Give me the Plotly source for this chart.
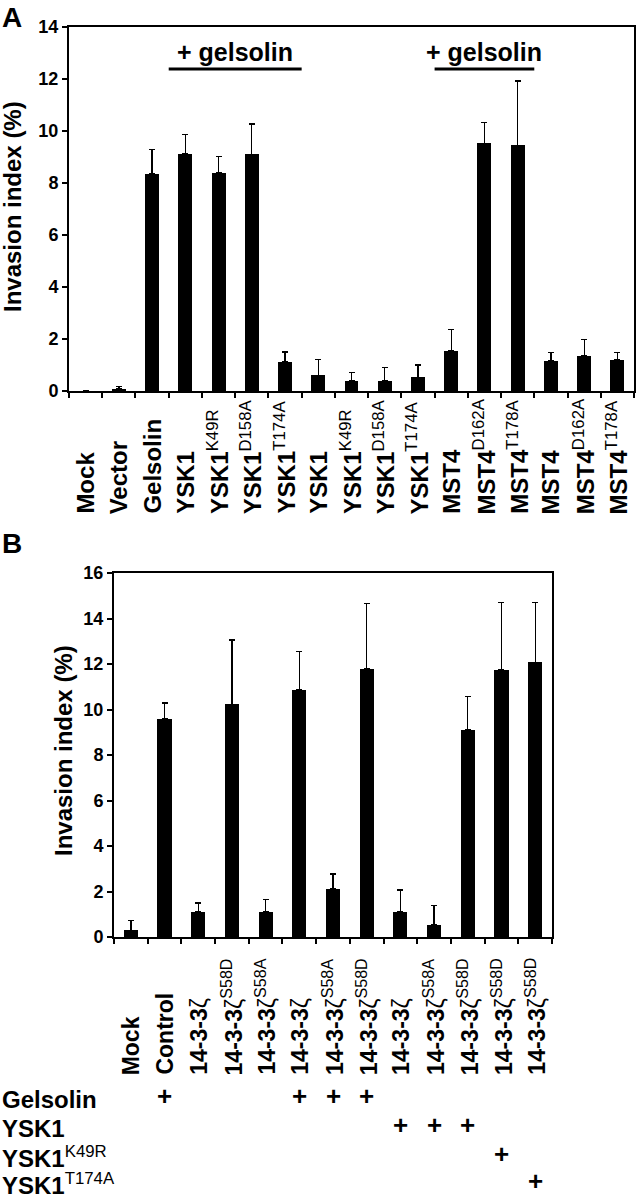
import plotly.graph_objects as go

# ---------------- Panel A data ----------------
a_base = ["Mock", "Vector", "Gelsolin", "YSK1", "YSK1", "YSK1", "YSK1",
          "YSK1", "YSK1", "YSK1", "YSK1", "MST4", "MST4", "MST4",
          "MST4", "MST4", "MST4"]
a_sup = ["", "", "", "", "K49R", "D158A", "T174A",
         "", "K49R", "D158A", "T174A", "", "D162A", "T178A",
         "", "D162A", "T178A"]
a_values = [0.0, 0.08, 8.35, 9.12, 8.4, 9.1, 1.12,
            0.6, 0.4, 0.4, 0.52, 1.55, 9.52, 9.45,
            1.15, 1.35, 1.2]
a_errors = [0.0, 0.1, 0.95, 0.75, 0.63, 1.17, 0.38,
            0.6, 0.32, 0.5, 0.48, 0.82, 0.8, 2.47,
            0.33, 0.62, 0.27]
a_groups = [(3, 6), (11, 13)]          # "+ gelsolin" brackets (first, last category)
a_group_label = "+ gelsolin"
a_yticks = [0, 2, 4, 6, 8, 10, 12, 14]

# ---------------- Panel B data ----------------
b_base = ["Mock", "Control", "14-3-3", "14-3-3", "14-3-3", "14-3-3",
          "14-3-3", "14-3-3", "14-3-3", "14-3-3", "14-3-3",
          "14-3-3", "14-3-3"]
b_greek = ["", "", "ζ", "ζ", "ζ", "ζ", "ζ", "ζ", "ζ", "ζ", "ζ", "ζ", "ζ"]
b_sup = ["", "", "", "S58D", "S58A", "", "S58A", "S58D", "", "S58A",
         "S58D", "S58D", "S58D"]
b_values = [0.3, 9.58, 1.1, 10.22, 1.1, 10.87, 2.12, 11.8, 1.1, 0.53,
            9.1, 11.75, 12.07]
b_errors = [0.42, 0.7, 0.4, 2.83, 0.55, 1.68, 0.65, 2.85, 0.97, 0.85,
            1.48, 2.95, 2.63]
b_yticks = [0, 2, 4, 6, 8, 10, 12, 14, 16]

# treatment table under panel B
t_rows = ["Gelsolin", "YSK1", "YSK1", "YSK1"]
t_rows_sup = ["", "", "K49R", "T174A"]
t_marks = [
    [0, 1, 0, 0, 0, 1, 1, 1, 0, 0, 0, 0, 0],
    [0, 0, 0, 0, 0, 0, 0, 0, 1, 1, 1, 0, 0],
    [0, 0, 0, 0, 0, 0, 0, 0, 0, 0, 0, 1, 0],
    [0, 0, 0, 0, 0, 0, 0, 0, 0, 0, 0, 0, 1],
]

FONT = "Liberation Sans, Arial, sans-serif"
W, H = 636, 1200


def px_x(p):
    return p / W


def px_y(p):
    return 1 - p / H


def label(base, sup, greek=""):
    t = "<b>%s</b>" % base
    if greek:
        t += greek
    if sup:
        t += "<sup>%s</sup>" % sup
    return t


fig = go.Figure()

fig.add_trace(go.Bar(
    x=list(range(len(a_values))), y=a_values, width=0.42,
    marker=dict(color="black", line=dict(width=0)),
    error_y=dict(type="data", symmetric=False, array=a_errors,
                 arrayminus=[0] * len(a_errors), color="black",
                 thickness=1.3, width=3),
    xaxis="x", yaxis="y", showlegend=False))

fig.add_trace(go.Bar(
    x=list(range(len(b_values))), y=b_values, width=0.42,
    marker=dict(color="black", line=dict(width=0)),
    error_y=dict(type="data", symmetric=False, array=b_errors,
                 arrayminus=[0] * len(b_errors), color="black",
                 thickness=1.3, width=3),
    xaxis="x2", yaxis="y2", showlegend=False))

axis_common = dict(showline=True, linecolor="black", linewidth=2,
                   mirror=True, ticks="outside", tickwidth=1.5,
                   ticklen=5, tickcolor="black", showgrid=False,
                   zeroline=False, automargin=False)

na, nb = len(a_values), len(b_values)
fig.update_layout(
    width=W, height=H,
    margin=dict(l=0, r=0, t=0, b=0, pad=0),
    paper_bgcolor="white", plot_bgcolor="white",
    font=dict(family=FONT, color="black"),
    bargap=0,
    xaxis=dict(domain=[px_x(69), px_x(634)], range=[-0.5, na - 0.5],
               tickvals=[i - 0.5 for i in range(na + 1)],
               showticklabels=False, anchor="y", **axis_common),
    yaxis=dict(domain=[px_y(391), px_y(27)], range=[0, 14],
               tickvals=a_yticks,
               ticktext=["<b>%d</b>" % v for v in a_yticks],
               tickfont=dict(size=18, family=FONT), anchor="x",
               **axis_common),
    xaxis2=dict(domain=[px_x(114), px_x(552)], range=[-0.5, nb - 0.5],
                tickvals=[i - 0.5 for i in range(nb + 1)],
                showticklabels=False, anchor="y2", **axis_common),
    yaxis2=dict(domain=[px_y(937), px_y(573)], range=[0, 16],
                tickvals=b_yticks,
                ticktext=["<b>%d</b>" % v for v in b_yticks],
                tickfont=dict(size=18, family=FONT), anchor="x2",
                **axis_common),
)

ann = []
# category labels, bottom-aligned, rotated
for i, (b, s) in enumerate(zip(a_base, a_sup)):
    ann.append(dict(x=i, xref="x", y=px_y(516), yref="paper",
                    text=label(b, s), textangle=-90, showarrow=False,
                    xanchor="center", yanchor="bottom",
                    font=dict(size=24, family=FONT)))
for i, (b, g, s) in enumerate(zip(b_base, b_greek, b_sup)):
    ann.append(dict(x=i, xref="x2", y=px_y(1077), yref="paper",
                    text=label(b, s, g), textangle=-90, showarrow=False,
                    xanchor="center", yanchor="bottom",
                    font=dict(size=23, family=FONT)))

# y titles
ann.append(dict(x=px_x(13), y=px_y(207), xref="paper", yref="paper",
                text="<b>Invasion index (%)</b>", textangle=-90,
                xanchor="center", yanchor="middle",
                showarrow=False, font=dict(size=24, family=FONT)))
ann.append(dict(x=px_x(63), y=px_y(751), xref="paper", yref="paper",
                text="<b>Invasion index (%)</b>", textangle=-90,
                xanchor="center", yanchor="middle",
                showarrow=False, font=dict(size=24, family=FONT)))

# panel letters
ann.append(dict(x=0, y=px_y(0), xref="paper", yref="paper", text="<b>A</b>",
                showarrow=False, xanchor="left", yanchor="top",
                font=dict(size=28, family=FONT)))
ann.append(dict(x=0, y=px_y(526), xref="paper", yref="paper", text="<b>B</b>",
                showarrow=False, xanchor="left", yanchor="top",
                font=dict(size=28, family=FONT)))

# "+ gelsolin" brackets
shapes = []
for (g0, g1) in a_groups:
    shapes.append(dict(type="line", xref="x", yref="y",
                       x0=g0 - 0.5, x1=g1 + 0.5, y0=12.38, y1=12.38,
                       line=dict(color="black", width=3)))
    ann.append(dict(x=(g0 + g1) / 2, xref="x", y=13.02, yref="y",
                    text="<b>%s</b>" % a_group_label, showarrow=False,
                    xanchor="center", yanchor="middle",
                    font=dict(size=25, family=FONT)))

# treatment table
row_y = [1099, 1128, 1157, 1184]
for r, (b, s) in enumerate(zip(t_rows, t_rows_sup)):
    ann.append(dict(x=0, y=px_y(row_y[r]), xref="paper", yref="paper",
                    text=label(b, s), showarrow=False, xanchor="left",
                    yanchor="middle", font=dict(size=24, family=FONT)))
    for i, m in enumerate(t_marks[r]):
        if m:
            ann.append(dict(x=i, xref="x2", y=px_y(row_y[r] - 3), yref="paper",
                            text="<b>+</b>", showarrow=False,
                            xanchor="center", yanchor="middle",
                            font=dict(size=26, family=FONT)))

fig.update_layout(annotations=ann, shapes=shapes)
fig.write_html("out.html",
               config={"displayModeBar": False},
               post_script="document.body.style.margin='0';")
